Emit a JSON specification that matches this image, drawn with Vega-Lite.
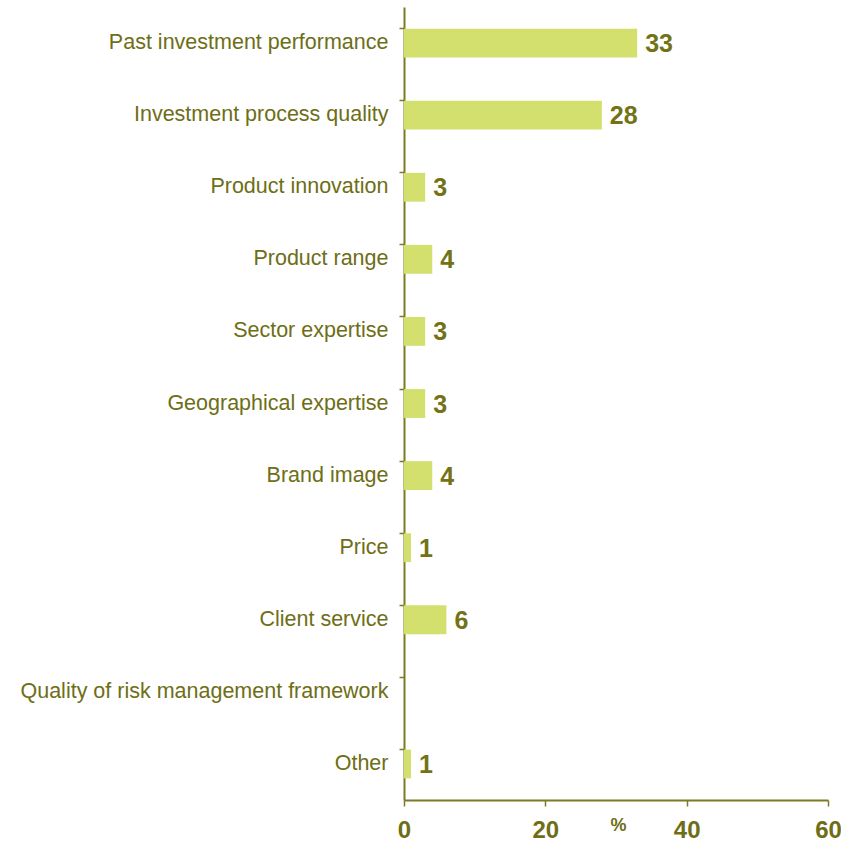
{
  "$schema": "https://vega.github.io/schema/vega-lite/v6.json",
  "width": 424,
  "height": 793,
  "autosize": "none",
  "padding": {"left": 404, "top": 7, "right": 13, "bottom": 41},
  "background": "white",
  "config": {"view": {"stroke": null}, "font": "Liberation Sans"},
  "data": {"values": [
    {"factor": "Past investment performance", "pct": 33},
    {"factor": "Investment process quality", "pct": 28},
    {"factor": "Product innovation", "pct": 3},
    {"factor": "Product range", "pct": 4},
    {"factor": "Sector expertise", "pct": 3},
    {"factor": "Geographical expertise", "pct": 3},
    {"factor": "Brand image", "pct": 4},
    {"factor": "Price", "pct": 1},
    {"factor": "Client service", "pct": 6},
    {"factor": "Quality of risk management framework", "pct": null},
    {"factor": "Other", "pct": 1}
  ]},
  "encoding": {
    "y": {
      "field": "factor", "type": "nominal",
      "scale": {"domain": ["Past investment performance", "Investment process quality", "Product innovation", "Product range", "Sector expertise", "Geographical expertise", "Brand image", "Price", "Client service", "Quality of risk management framework", "Other"], "paddingInner": 0.6, "paddingOuter": 0.3},
      "axis": {
        "title": null, "bandPosition": 0, "domainColor": "#7B7B22", "domainWidth": 2,
        "tickColor": "#7B7B22", "tickSize": 5, "tickWidth": 1.5,
        "labelColor": "#6E6E16", "labelFont": "Liberation Sans", "labelFontSize": 21.5,
        "labelPadding": 11, "labelLimit": 420, "grid": false
      }
    },
    "x": {
      "field": "pct", "type": "quantitative",
      "scale": {"domain": [0, 60], "nice": false},
      "axis": {
        "values": [0, 20, 40, 60], "title": "%", "titleX": 214, "titleY": 30, "titleBaseline": "alphabetic", "titleAlign": "center", "titleAnchor": null,
        "titleFontSize": 18, "titleFontWeight": "bold", "titleColor": "#6E6E16", "titleFont": "Liberation Sans",
        "domainColor": "#7B7B22", "domainWidth": 2, "tickColor": "#7B7B22", "tickSize": 6, "tickWidth": 1.5,
        "labelColor": "#6E6E16", "labelFont": "Liberation Sans", "labelFontSize": 24, "labelFontWeight": "bold",
        "labelPadding": 12, "grid": false, "labelFlush": false
      }
    }
  },
  "layer": [
    {"mark": {"type": "bar", "color": "#D3E06E"}},
    {
      "transform": [{"filter": "datum.pct != null"}],
      "mark": {"type": "text", "align": "left", "baseline": "middle", "dx": 8, "dy": 1, "fontSize": 25, "fontWeight": "bold", "color": "#737316", "font": "Liberation Sans"},
      "encoding": {"text": {"field": "pct", "type": "quantitative"}}
    }
  ]
}
